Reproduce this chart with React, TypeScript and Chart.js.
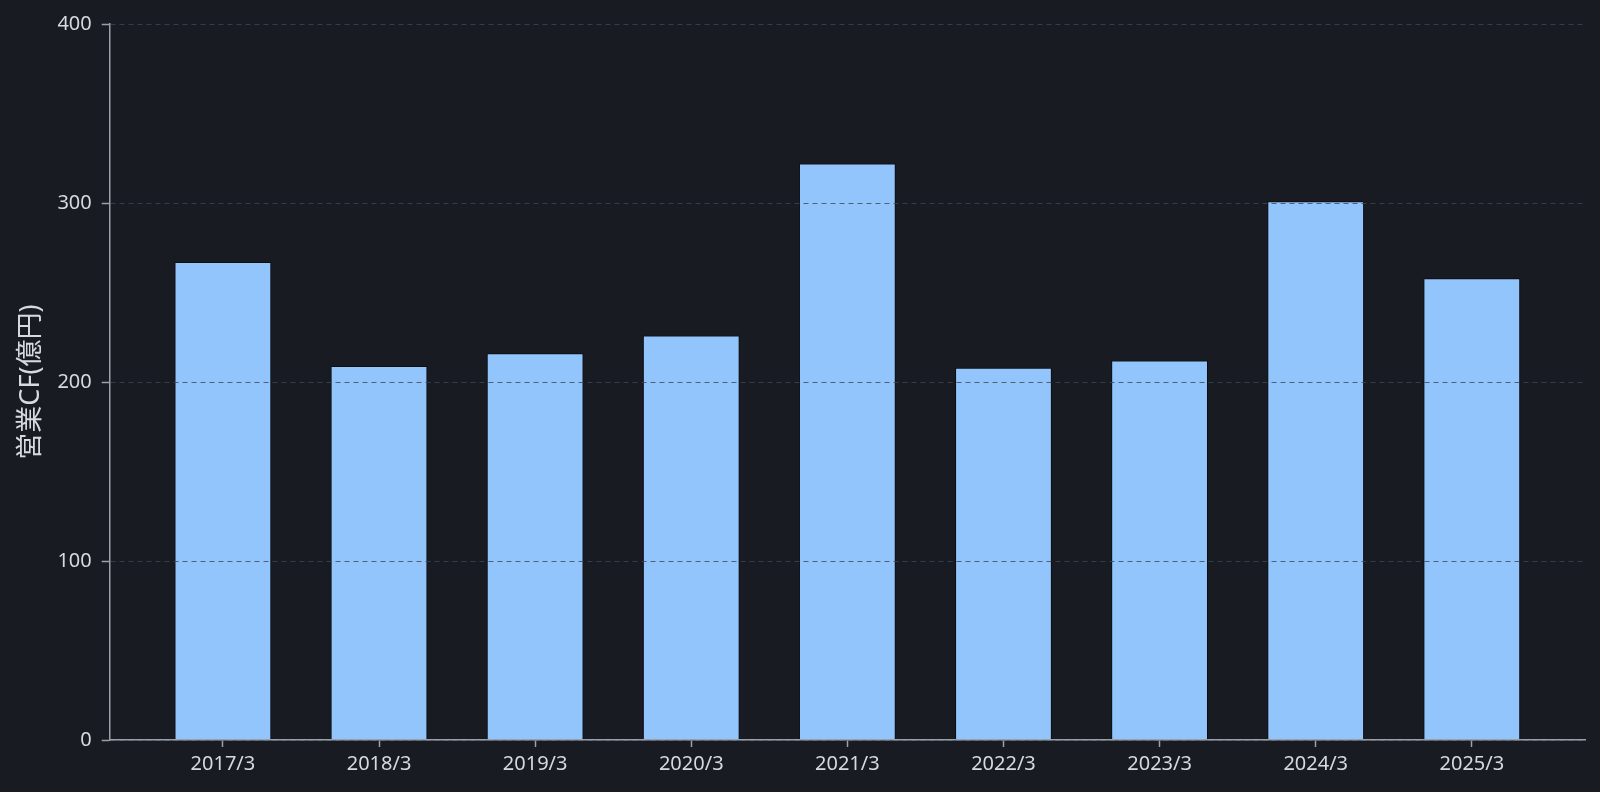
import React, { useEffect, useRef } from "react";
import { Chart, registerables } from "chart.js";

Chart.register(...registerables);

const categories: string[] = ["2017/3", "2018/3", "2019/3", "2020/3", "2021/3", "2022/3", "2023/3", "2024/3", "2025/3"];
const operatingCF: number[] = [267, 209, 216, 226, 322, 208, 212, 301, 258];
const yTicks: number[] = [0, 100, 200, 300, 400];
const yAxisTitle = "営業CF(億円)";

const BG = "#181b22";
const FONT = "'Noto Sans', 'Noto Sans CJK JP', sans-serif";

export default function App() {
  const ref = useRef<HTMLCanvasElement | null>(null);

  useEffect(() => {
    if (!ref.current) return;
    const chart = new Chart(ref.current, {
      type: "bar",
      data: {
        datasets: [
          {
            label: yAxisTitle,
            data: operatingCF.map((v, i) => ({ x: i, y: v })),
            backgroundColor: "#93c5fd",
            borderColor: "#0c0e12",
            borderWidth: 1,
            barPercentage: 0.775,
            categoryPercentage: 0.8,
          },
        ],
      },
      options: {
        animation: false,
        responsive: true,
        maintainAspectRatio: false,
        layout: { padding: { left: 3, right: 15, top: 24, bottom: 11 } },
        plugins: { legend: { display: false }, tooltip: { enabled: false } },
        scales: {
          x: {
            type: "linear",
            offset: false,
            min: -0.725,
            max: categories.length - 1 + 0.725,
            afterBuildTicks: (axis: any) => {
              axis.ticks = categories.map((_, i) => ({ value: i }));
            },
            ticks: {
              autoSkip: false,
              maxRotation: 0,
              padding: 5,
              color: "#d6d9de",
              font: { family: FONT, size: 20 },
              callback: (v: any) => categories[Math.round(Number(v))] ?? "",
            },
            grid: {
              display: true,
              offset: false,
              drawOnChartArea: false,
              drawTicks: true,
              tickLength: 7,
              tickColor: "#9aa0a8",
              tickWidth: 1.5,
            },
            border: { display: true, color: "#9aa0a8", width: 1.5, z: 2 },
          },
          y: {
            min: 0,
            max: 400,
            afterBuildTicks: (axis: any) => {
              axis.ticks = yTicks.map((v) => ({ value: v }));
            },
            ticks: {
              padding: 10,
              color: "#d6d9de",
              font: { family: FONT, size: 20 },
            },
            grid: {
              display: true,
              drawOnChartArea: true,
              drawTicks: true,
              tickLength: 8,
              color: "rgba(60,70,86,0.8)",
              tickColor: "#9aa0a8",
              tickWidth: 1.5,
              z: 1,
            },
            border: { display: true, color: "#9aa0a8", width: 1.5, dash: [5, 4], z: 2 },
            title: {
              display: true,
              text: yAxisTitle,
              color: "#d6d9de",
              font: { family: FONT, size: 27 },
              padding: { top: 12, bottom: 0 },
            },
          },
        },
      },
    });
    return () => chart.destroy();
  }, []);

  return (
    <div style={{ position: "fixed", left: 0, top: 0, width: 1600, height: 792, background: BG }}>
      <canvas ref={ref} />
    </div>
  );
}
